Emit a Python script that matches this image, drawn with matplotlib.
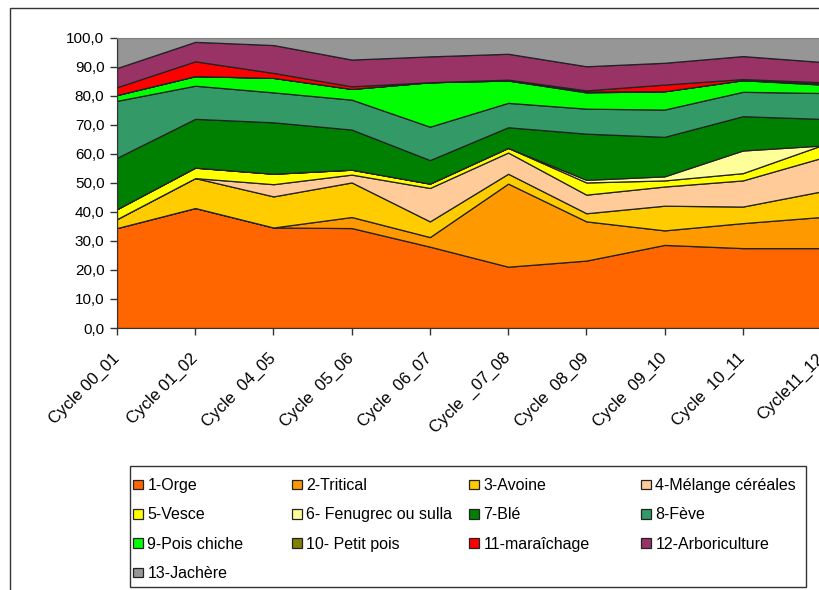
import numpy as np
import matplotlib.pyplot as plt
from matplotlib.patches import Rectangle

plt.rcParams['font.family'] = ['Liberation Sans', 'DejaVu Sans']

cycles = ['Cycle 00_01', 'Cycle 01_02', 'Cycle  04_05', 'Cycle  05_06', 'Cycle  06_07',
          'Cycle  _07_08', 'Cycle  08_09', 'Cycle  09_10', 'Cycle  10_11', 'Cycle11_12']

labels = ['1-Orge', '2-Tritical', '3-Avoine', '4-Mélange céréales', '5-Vesce',
          '6- Fenugrec ou sulla', '7-Blé', '8-Fève', '9-Pois chiche', '10- Petit pois',
          '11-maraîchage', '12-Arboriculture', '13-Jachère']

# share of surface (%) per crop and per cycle
orge      = [34.4, 41.3, 34.6, 34.4, 28.0, 21.1, 23.2, 28.6, 27.5, 27.5]
tritical  = [0.0, 0.0, 0.0, 3.8, 3.3, 28.6, 13.5, 5.0, 8.6, 10.7]
avoine    = [3.1, 10.3, 10.7, 11.9, 5.4, 3.4, 2.8, 8.5, 5.7, 8.8]
melange   = [0.0, 0.0, 4.2, 2.7, 11.5, 7.3, 6.4, 6.6, 9.0, 11.5]
vesce     = [3.4, 3.6, 3.6, 1.7, 1.5, 1.6, 4.2, 2.1, 2.5, 4.3]
fenugrec  = [0.0, 0.0, 0.0, 0.0, 0.0, 0.0, 0.9, 1.4, 7.8, 0.0]
ble       = [17.7, 16.8, 17.7, 13.8, 8.1, 7.1, 15.9, 13.6, 11.8, 9.2]
feve      = [19.6, 11.4, 10.3, 10.3, 11.5, 8.4, 8.6, 9.4, 8.4, 8.9]
pois      = [2.0, 3.3, 5.0, 3.7, 15.3, 7.7, 5.6, 6.3, 4.0, 2.9]
petitpois = [0.0, 0.0, 0.0, 0.0, 0.0, 0.0, 0.3, 0.0, 0.0, 0.3]
maraich   = [2.7, 5.1, 1.7, 0.9, 0.0, 0.3, 0.4, 2.3, 0.4, 0.5]
arbo      = [6.6, 6.7, 9.6, 9.2, 8.9, 8.9, 8.3, 7.5, 7.9, 7.0]
jachere   = [10.5, 1.5, 2.6, 7.6, 6.5, 5.6, 9.9, 8.7, 6.4, 8.4]

colors = ['#FF6600', '#FF9900', '#FFCC00', '#FFCC99', '#FFFF00', '#FFFF99', '#008000',
          '#339966', '#00FF00', '#808000', '#FF0000', '#993366', '#969696']

series = [orge, tritical, avoine, melange, vesce, fenugrec, ble, feve, pois,
          petitpois, maraich, arbo, jachere]

fig = plt.figure(figsize=(8.2, 5.9), dpi=100)
ax = fig.add_axes([117 / 820, 1 - 328 / 590, 704 / 820, 290.5 / 590])

x = np.arange(len(cycles))
polys = ax.stackplot(x, *series, colors=colors, edgecolor='#222222', linewidth=0.9)

ax.set_xlim(0, len(cycles) - 1)
ax.set_ylim(0, 100)
ax.set_yticks(np.arange(0, 101, 10))
ax.set_yticklabels([f'{v:.1f}'.replace('.', ',') for v in np.arange(0, 101, 10)], fontsize=11)
ax.set_xticks(x)
ax.set_xticklabels(cycles, rotation=45, ha='right', va='center', rotation_mode='anchor', fontsize=12)
ax.tick_params(axis='both', direction='out', length=5, width=1, color='#333333')
ax.tick_params(axis='x', pad=15)
ax.tick_params(axis='y', pad=4)
ax.spines['right'].set_visible(False)
ax.spines['top'].set_color('#808080')
ax.spines['left'].set_color('#333333')
ax.spines['bottom'].set_color('#333333')

# outer chart border
fig.patches.append(Rectangle((10 / 820, -0.05), 1.0, 1.05 - 8 / 590, transform=fig.transFigure,
                             fill=False, edgecolor='#333333', linewidth=1))

# legend frame and columns (row-major order like the original)
fig.patches.append(Rectangle((130 / 820, 3 / 590), 676 / 820, 121 / 590, transform=fig.transFigure,
                             fill=False, edgecolor='#333333', linewidth=1))
col_x = [133, 292, 469, 641]
for c in range(4):
    idx = list(range(c, len(labels), 4))
    fig.legend([polys[i] for i in idx], [labels[i] for i in idx],
               loc='upper left', bbox_to_anchor=(col_x[c] / 820, 1 - 478 / 590),
               frameon=False, fontsize=11.5, handlelength=0.6, handleheight=0.55,
               handletextpad=0.3, labelspacing=0.9, borderpad=0, borderaxespad=0)

fig.savefig('out.png', dpi=100)
